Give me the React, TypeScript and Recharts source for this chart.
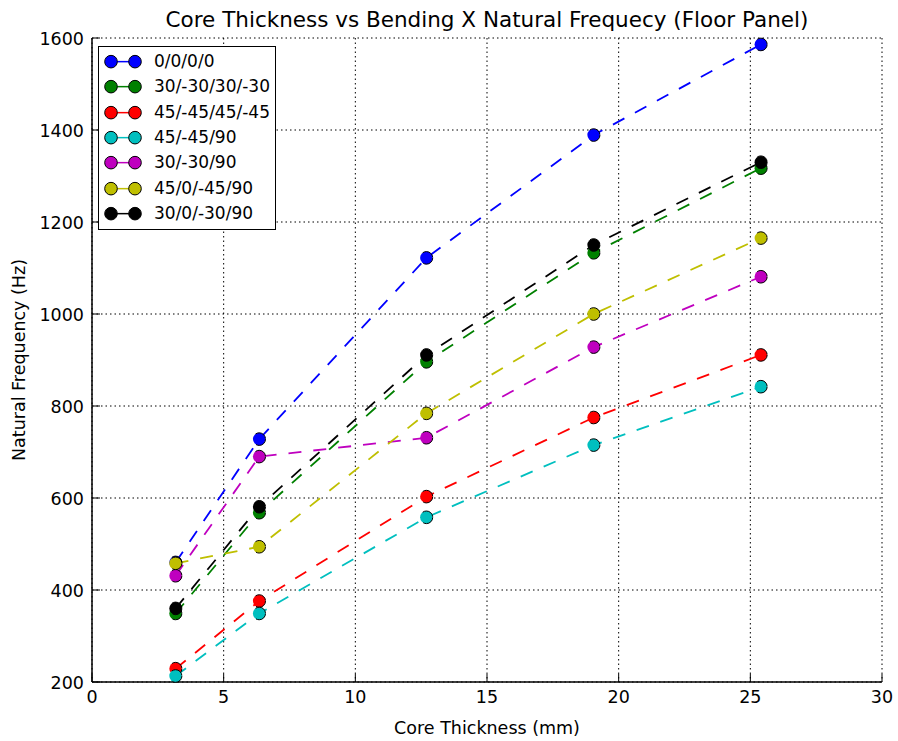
import React from 'react';
import { LineChart, Line, XAxis, YAxis, CartesianGrid, Legend } from 'recharts';

// core thickness in mm (1/8", 1/4", 1/2", 3/4", 1")
const thickness = [3.175, 6.35, 12.7, 19.05, 25.4];

// natural frequency (Hz) per layup
const layup0000 = [460, 728, 1122, 1389, 1586];
const layup30m30x2 = [349, 568, 896, 1133, 1317];
const layup45m45x2 = [229, 376, 603, 775, 911];
const layup45m45_90 = [213, 349, 558, 715, 842];
const layup30m30_90 = [431, 690, 731, 928, 1081];
const layup45_0_m45_90 = [458, 494, 784, 1000, 1165];
const layup30_0_m30_90 = [360, 581, 911, 1150, 1330];

const seriesNames = ['0/0/0/0', '30/-30/30/-30', '45/-45/45/-45', '45/-45/90', '30/-30/90', '45/0/-45/90', '30/0/-30/90'];
const seriesColors = ['#0000ff', '#008000', '#ff0000', '#00bfbf', '#bf00bf', '#bfbf00', '#000000'];
const seriesValues = [layup0000, layup30m30x2, layup45m45x2, layup45m45_90, layup30m30_90, layup45_0_m45_90, layup30_0_m30_90];

const xTicks = [0, 5, 10, 15, 20, 25, 30];
const yTicks = [200, 400, 600, 800, 1000, 1200, 1400, 1600];

const data = thickness.map((t, i) => {
  const row: Record<string, number> = { t };
  seriesValues.forEach((vals, s) => {
    row[`s${s}`] = vals[i];
  });
  return row;
});

const FONT = '"DejaVu Sans", sans-serif';
const TICK = 8;
const FS = 17.5;
const ROW = 25.3;

const BottomTick = (props: any) => {
  const { x, y, payload } = props;
  return (
    <g>
      <line x1={x} x2={x} y1={y} y2={y - TICK} stroke="#000" strokeWidth={1} />
      <text x={x} y={y + 21} textAnchor="middle" fontSize={FS} fontFamily={FONT} fill="#000">
        {payload.value}
      </text>
    </g>
  );
};

const TopTick = (props: any) => {
  const { x, y } = props;
  return <line x1={x} x2={x} y1={y} y2={y + TICK} stroke="#000" strokeWidth={1} />;
};

const LeftTick = (props: any) => {
  const { x, y, payload } = props;
  return (
    <g>
      <line x1={x} x2={x + TICK} y1={y} y2={y} stroke="#000" strokeWidth={1} />
      <text x={x - 8} y={y + 6.5} textAnchor="end" fontSize={FS} fontFamily={FONT} fill="#000">
        {payload.value}
      </text>
    </g>
  );
};

const RightTick = (props: any) => {
  const { x, y } = props;
  return <line x1={x} x2={x - TICK} y1={y} y2={y} stroke="#000" strokeWidth={1} />;
};

// legend box: markers at 13px / 37px from the left edge, text from 57px
const LegendBox = () => (
  <div
    style={{
      position: 'relative',
      border: '1.5px solid #000',
      background: '#fff',
      width: 176,
      height: ROW * seriesNames.length + 5,
      fontFamily: FONT,
      fontSize: 17,
    }}
  >
    {seriesNames.map((name, i) => (
      <div key={name} style={{ position: 'absolute', left: 0, top: 2 + i * ROW, width: 176, height: ROW }}>
        <svg width={50} height={ROW} style={{ position: 'absolute', left: 0, top: 0 }}>
          <line x1={12} x2={36} y1={ROW / 2} y2={ROW / 2} stroke={seriesColors[i]} strokeWidth={1.5} />
          <circle cx={12} cy={ROW / 2} r={6.3} fill={seriesColors[i]} stroke="#000" strokeWidth={1} />
          <circle cx={36} cy={ROW / 2} r={6.3} fill={seriesColors[i]} stroke="#000" strokeWidth={1} />
        </svg>
        <span style={{ position: 'absolute', left: 55, top: 0, lineHeight: `${ROW}px`, whiteSpace: 'nowrap' }}>
          {name}
        </span>
      </div>
    ))}
  </div>
);

const YTitle = () => (
  <text
    x={25}
    y={360}
    transform="rotate(-90 25 360)"
    textAnchor="middle"
    fontSize={FS}
    fontFamily={FONT}
    fill="#000"
  >
    Natural Frequency (Hz)
  </text>
);

const XTitle = () => (
  <text x={487} y={734} textAnchor="middle" fontSize={FS} fontFamily={FONT} fill="#000">
    Core Thickness (mm)
  </text>
);

export default function App() {
  return (
    <div style={{ position: 'absolute', left: 0, top: 0, width: 898, height: 741, background: '#fff' }}>
      <div
        style={{
          position: 'absolute',
          left: 92,
          top: 7,
          width: 790,
          textAlign: 'center',
          fontFamily: FONT,
          fontSize: 21.5,
          lineHeight: '26px',
          color: '#000',
          zIndex: 2,
          whiteSpace: 'nowrap',
        }}
      >
        Core Thickness vs Bending X Natural Frequecy (Floor Panel)
      </div>
      <LineChart width={898} height={741} data={data} margin={{ top: 38, right: 16, bottom: 29, left: 32 }}>
        <CartesianGrid stroke="#000" strokeDasharray="1.5 3" strokeWidth={1} />
        <XAxis
          dataKey="t"
          type="number"
          domain={[0, 30]}
          ticks={xTicks}
          height={30}
          tickSize={0}
          tickMargin={0}
          tickLine={false}
          axisLine={{ stroke: '#000', strokeWidth: 1.5 }}
          tick={<BottomTick />}
          interval={0}
          label={<XTitle />}
        />
        <XAxis
          xAxisId="top"
          orientation="top"
          type="number"
          domain={[0, 30]}
          ticks={xTicks}
          height={0}
          tickSize={0}
          tickMargin={0}
          tickLine={false}
          axisLine={{ stroke: '#000', strokeWidth: 1.5 }}
          tick={<TopTick />}
          interval={0}
          allowDataOverflow
        />
        <YAxis
          type="number"
          domain={[200, 1600]}
          ticks={yTicks}
          width={60}
          tickSize={0}
          tickMargin={0}
          tickLine={false}
          axisLine={{ stroke: '#000', strokeWidth: 1.5 }}
          tick={<LeftTick />}
          interval={0}
          label={<YTitle />}
        />
        <YAxis
          yAxisId="right"
          orientation="right"
          type="number"
          domain={[200, 1600]}
          ticks={yTicks}
          width={0}
          tickSize={0}
          tickMargin={0}
          tickLine={false}
          axisLine={{ stroke: '#000', strokeWidth: 1.5 }}
          tick={<RightTick />}
          interval={0}
          allowDataOverflow
        />
        <Legend
          content={<LegendBox />}
          layout="vertical"
          verticalAlign="middle"
          align="center"
          wrapperStyle={{ left: 98, top: 46, width: 180, right: 'auto', bottom: 'auto' }}
        />
        {seriesNames.map((name, i) => (
          <Line
            key={name}
            name={name}
            dataKey={`s${i}`}
            type="linear"
            stroke={seriesColors[i]}
            strokeWidth={1.8}
            strokeDasharray="13 12"
            dot={{ r: 6.3, fill: seriesColors[i], stroke: '#000', strokeWidth: 1 }}
            activeDot={false}
            isAnimationActive={false}
          />
        ))}
      </LineChart>
    </div>
  );
}
